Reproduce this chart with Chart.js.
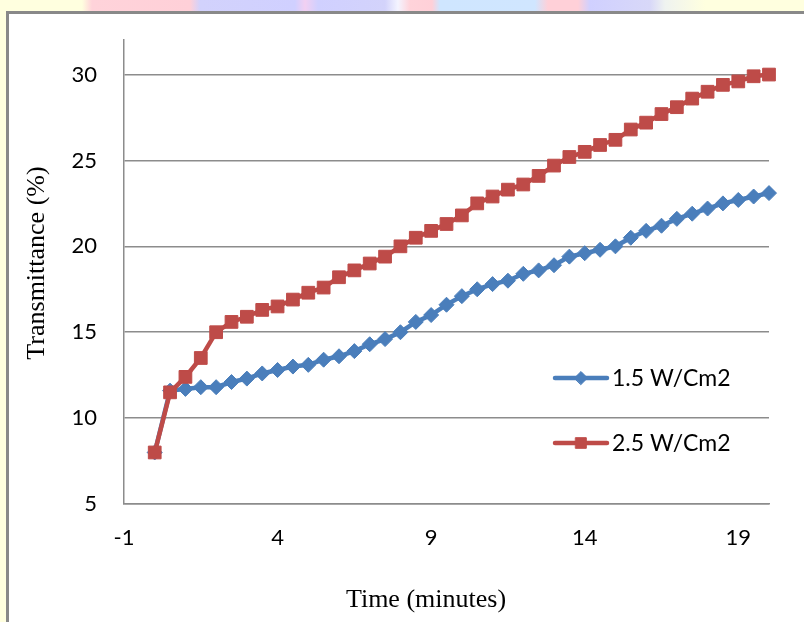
<!DOCTYPE html>
<html>
<head>
<meta charset="utf-8">
<script src="https://cdn.jsdelivr.net/npm/chart.js@4.4.1/dist/chart.umd.min.js"></script>
<style>
  html, body { margin: 0; padding: 0; }
  body { width: 804px; height: 622px; overflow: hidden; position: relative; background: #FFFFDF; }
  #strip { position: absolute; left: 0; top: 0; width: 804px; height: 11px;
    background: linear-gradient(to right,
      #FFFFDF 0px, #FFFFDF 82px, #FFD3DA 92px, #FFD0D8 190px, #D2D2FC 200px, #D0D0FF 295px,
      #F2D0F2 305px, #D0D0FF 318px, #D3D3FB 385px, #F4F4FF 398px, #FFD3DA 410px, #FFD0D8 432px,
      #CFE6FF 440px, #D0E6FF 535px, #FFD0D8 548px, #FFD0D8 578px, #D0D0FF 590px, #D8D8F8 650px,
      #EFF3F0 665px, #FFFFDF 705px, #FFFFDF 804px); }
  #frame { position: absolute; left: 6px; top: 11px; width: 830px; height: 650px;
    border: 3px solid #898989; background: #FFFFFF; }
  #c { position: absolute; left: 0; top: 0; }
</style>
</head>
<body>
<div id="strip"></div>
<div id="frame"></div>
<canvas id="c" width="804" height="622"></canvas>
<script>
// ---- data ----
const timeMinutes = [0, 0.5, 1, 1.5, 2, 2.5, 3, 3.5, 4, 4.5, 5, 5.5, 6, 6.5, 7, 7.5, 8, 8.5, 9, 9.5,
                     10, 10.5, 11, 11.5, 12, 12.5, 13, 13.5, 14, 14.5, 15, 15.5, 16, 16.5, 17, 17.5,
                     18, 18.5, 19, 19.5, 20];
const series15 = [8.0, 11.6, 11.7, 11.8, 11.8, 12.1, 12.3, 12.6, 12.8, 13.0, 13.1, 13.4, 13.6, 13.9,
                  14.3, 14.6, 15.0, 15.6, 16.0, 16.6, 17.1, 17.5, 17.8, 18.0, 18.4, 18.6, 18.9, 19.4,
                  19.6, 19.8, 20.0, 20.5, 20.9, 21.2, 21.6, 21.9, 22.2, 22.5, 22.7, 22.9, 23.1];
const series25 = [8.0, 11.5, 12.4, 13.5, 15.0, 15.6, 15.9, 16.3, 16.5, 16.9, 17.3, 17.6, 18.2, 18.6,
                  19.0, 19.4, 20.0, 20.5, 20.9, 21.3, 21.8, 22.5, 22.9, 23.3, 23.6, 24.1, 24.7, 25.2,
                  25.5, 25.9, 26.2, 26.8, 27.2, 27.7, 28.1, 28.6, 29.0, 29.4, 29.6, 29.9, 30.0];
const seriesNames = ['1.5 W/Cm2', '2.5 W/Cm2'];
const xTickValues = [-1, 4, 9, 14, 19];
const yTickValues = [5, 10, 15, 20, 25, 30];
const xTitle = 'Time (minutes)';
const yTitle = 'Transmittance (%)';

// ---- styles ----
const blue = '#4A7EBB';
const red = '#BE4B48';
const tickFont = { family: 'Lato, "Noto Sans", sans-serif', size: 22 };
const titleFontCss = '26px "Liberation Serif", "Times New Roman", serif';

const toPoints = (ys) => timeMinutes.map((t, i) => ({ x: t, y: ys[i] }));

const insideLegend = {
  id: 'insideLegend',
  afterDatasetsDraw(chart) {
    const ctx = chart.ctx;
    const entries = [
      { ds: chart.data.datasets[0], y: 378 },
      { ds: chart.data.datasets[1], y: 443 }
    ];
    ctx.save();
    entries.forEach(e => {
      const col = e.ds.borderColor;
      ctx.strokeStyle = col;
      ctx.lineWidth = 4.5;
      ctx.lineCap = 'round';
      ctx.beginPath();
      ctx.moveTo(555, e.y);
      ctx.lineTo(607, e.y);
      ctx.stroke();
      ctx.fillStyle = col;
      ctx.strokeStyle = col;
      ctx.lineWidth = 1;
      Chart.helpers.drawPoint(ctx, {
        pointStyle: e.ds.pointStyle,
        radius: e.ds.pointStyle === 'rect' ? 7.5 : 6.5,
        rotation: 0,
        borderWidth: 1
      }, 581, e.y);
      ctx.fillStyle = '#000000';
      ctx.font = '23px Lato, "Noto Sans", sans-serif';
      ctx.textAlign = 'left';
      ctx.textBaseline = 'middle';
      ctx.fillText(e.ds.label, 612, e.y + 1);
    });
    ctx.restore();
  }
};

const axisTitles = {
  id: 'axisTitles',
  afterDraw(chart) {
    const ctx = chart.ctx;
    ctx.save();
    ctx.fillStyle = '#000000';
    ctx.font = titleFontCss;
    ctx.textAlign = 'center';
    ctx.textBaseline = 'middle';
    ctx.fillText(xTitle, 426, 600);
    ctx.translate(37, 263);
    ctx.rotate(-Math.PI / 2);
    ctx.fillText(yTitle, 0, 0);
    ctx.restore();
  }
};

new Chart(document.getElementById('c'), {
  type: 'line',
  data: {
    datasets: [
      {
        label: seriesNames[0],
        data: toPoints(series15),
        borderColor: blue,
        backgroundColor: blue,
        borderWidth: 4.5,
        pointStyle: 'rectRot',
        pointRadius: 7.5,
        pointBorderWidth: 1,
        pointBackgroundColor: blue,
        pointBorderColor: blue,
        tension: 0,
        clip: false,
        order: 1
      },
      {
        label: seriesNames[1],
        data: toPoints(series25),
        borderColor: red,
        backgroundColor: red,
        borderWidth: 4.5,
        pointStyle: 'rect',
        pointRadius: 9,
        pointBorderWidth: 1,
        pointBackgroundColor: red,
        pointBorderColor: red,
        tension: 0,
        clip: false,
        order: 0
      }
    ]
  },
  options: {
    responsive: false,
    animation: false,
    layout: { padding: { top: 40, right: 35, left: 0, bottom: 0 } },
    plugins: {
      legend: { display: false },
      tooltip: { enabled: false }
    },
    scales: {
      x: {
        type: 'linear',
        min: -1,
        max: 20,
        afterBuildTicks: (s) => { s.ticks = xTickValues.map(v => ({ value: v })); },
        afterFit: (s) => { s.height = 118; },
        grid: { display: false, drawTicks: false },
        border: { display: true, color: '#8c8c8c', width: 1.5 },
        ticks: { font: tickFont, color: '#000000', padding: 21, maxRotation: 0, autoSkip: false }
      },
      y: {
        type: 'linear',
        min: 5,
        max: 32,
        afterBuildTicks: (s) => { s.ticks = yTickValues.map(v => ({ value: v })); },
        afterFit: (s) => { s.width = 124; },
        grid: { display: true, drawTicks: false, color: '#8c8c8c', lineWidth: 1.5 },
        border: { display: true, color: '#8c8c8c', width: 1.5 },
        ticks: { font: tickFont, color: '#000000', padding: 27, autoSkip: false }
      }
    }
  },
  plugins: [insideLegend, axisTitles]
});
</script>
</body>
</html>
